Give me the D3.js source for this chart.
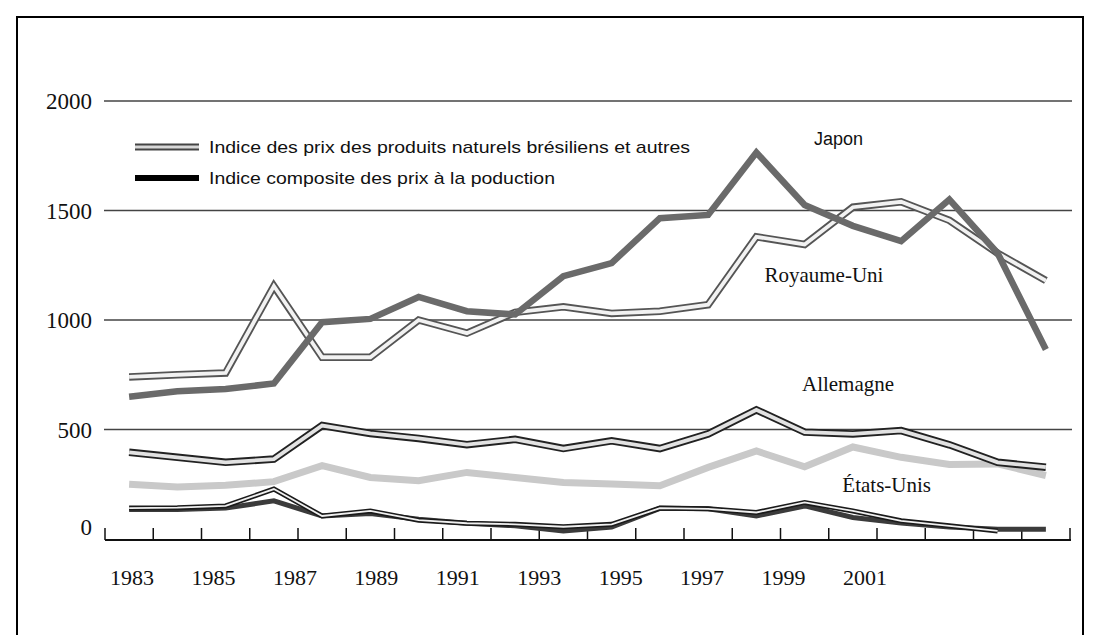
<!DOCTYPE html>
<html>
<head>
<meta charset="utf-8">
<script src="https://cdn.jsdelivr.net/npm/d3@7"></script>
<style>
  html, body { margin: 0; padding: 0; background: #fff; }
  svg { display: block; }
</style>
</head>
<body>
<svg id="chart" width="1095" height="635"></svg>
<script>
// ---- data ----
const years = [1983,1984,1985,1986,1987,1988,1989,1990,1991,1992,1993,1994,1995,1996,1997,1998,1999,2000,2001,2002];
const japon      = [650, 675, 685, 710, 990, 1005, 1105, 1040, 1025, 1200, 1260, 1465, 1480, 1765, 1525, 1430, 1360, 1550, 1305, 865];
const royaumeUni = [740, 750, 758, 1155, 830, 830, 1000, 940, 1035, 1060, 1030, 1040, 1070, 1380, 1345, 1515, 1540, 1455, 1305, 1180];
const allemagne  = [396, 373, 350, 365, 518, 482, 459, 431, 455, 413, 448, 413, 480, 590, 488, 480, 495, 430, 350, 328];
const etatsUnis  = [250, 238, 245, 262, 335, 281, 266, 304, 281, 258, 251, 243, 327, 402, 330, 420, 373, 340, 343, 290];
const bresil     = [141, 143, 151, 228, 105, 128, 86, 72, 67, 56, 67, 141, 138, 121, 167, 128, 83, 60, 37, null];
const composite  = [135, 135, 141, 174, 105, 116, 90, 72, 60, 37, 55, 140, 138, 105, 151, 98, 73, 55, 44, 44];
const yTicks = [0, 500, 1000, 1500, 2000];
const xLabels = ["1983","1985","1987","1989","1991","1993","1995","1997","1999","2001"];
const legendLabels = ["Indice des prix des produits naturels brésiliens et autres", "Indice composite des prix à la poduction"];
const countryLabels = [
  {name: "Japon", year: 1997.7, value: 1800, serif: false},
  {name: "Royaume-Uni", year: 1997.4, value: 1175, serif: true},
  {name: "Allemagne", year: 1997.9, value: 675, serif: true},
  {name: "États-Unis", year: 1998.7, value: 215, serif: true}
];

// ---- layout ----
const svg = d3.select("#chart");
const x = d3.scaleBand().domain(years).range([105, 1070]);
const xc = d => x(d) + x.bandwidth() / 2;
const y = d3.scaleLinear().domain([0, 2000]).range([539, 101]);
const xLab = d3.scalePoint().domain(xLabels).range([132, 865]);

const defs = svg.append("defs");
defs.append("filter").attr("id", "soft")
  .attr("filterUnits", "userSpaceOnUse").attr("x", 0).attr("y", 0).attr("width", 1095).attr("height", 635)
  .append("feGaussianBlur").attr("stdDeviation", 0.7);

// frame
svg.append("rect").attr("x", 17).attr("y", 17).attr("width", 1066).attr("height", 660)
  .attr("fill", "none").attr("stroke", "#000").attr("stroke-width", 2);

// gridlines
svg.append("g").selectAll("line").data(yTicks.filter(d => d > 0)).join("line")
  .attr("x1", 104).attr("x2", 1072)
  .attr("y1", d => y(d)).attr("y2", d => y(d))
  .attr("stroke", "#444").attr("stroke-width", 1.3);

// y labels
svg.append("g").selectAll("text").data(yTicks).join("text")
  .attr("x", 92).attr("y", d => d === 0 ? y(d) - 12 : y(d))
  .attr("dy", "0.35em").attr("text-anchor", "end")
  .attr("font-family", "Liberation Serif, Times New Roman, serif")
  .attr("font-size", 23).attr("fill", "#111")
  .text(d => d);

// x axis line + ticks (pointing up)
const axisG = svg.append("g");
axisG.append("line").attr("x1", 105).attr("x2", 1071).attr("y1", 540).attr("y2", 540)
  .attr("stroke", "#111").attr("stroke-width", 2);
const tickPos = years.map(d => x(d)).concat([x(years[years.length - 1]) + x.bandwidth()]);
axisG.selectAll("line.tick").data(tickPos).join("line").attr("class", "tick")
  .attr("x1", d => d).attr("x2", d => d).attr("y1", 540).attr("y2", 528)
  .attr("stroke", "#111").attr("stroke-width", 1.5);

// x labels
svg.append("g").selectAll("text").data(xLabels).join("text")
  .attr("x", d => xLab(d)).attr("y", 585).attr("text-anchor", "middle")
  .attr("font-family", "Liberation Serif, Times New Roman, serif")
  .attr("font-size", 22).attr("fill", "#111")
  .text(d => d);

function drawIdx(vals) {
  return d3.line().defined(d => d.v != null).x(d => xc(d.yr)).y(d => y(d.v))(vals.map((v, i) => ({v, yr: years[i]})));
}
const plot = svg.append("g").attr("fill", "none").attr("stroke-linejoin", "miter");

// États-Unis (light grey thick)
plot.append("path").attr("d", drawIdx(etatsUnis)).attr("stroke", "#c9c9c9").attr("stroke-width", 7).attr("filter", "url(#soft)");
// Allemagne (double line)
plot.append("path").attr("d", drawIdx(allemagne)).attr("stroke", "#222").attr("stroke-width", 7.5);
plot.append("path").attr("d", drawIdx(allemagne)).attr("stroke", "#e2e2e2").attr("stroke-width", 3.8);
// Royaume-Uni (double line)
plot.append("path").attr("d", drawIdx(royaumeUni)).attr("stroke", "#555").attr("stroke-width", 7.5);
plot.append("path").attr("d", drawIdx(royaumeUni)).attr("stroke", "#f2f2f2").attr("stroke-width", 3.8);
// Japon (dark grey thick)
plot.append("path").attr("d", drawIdx(japon)).attr("stroke", "#6a6a6a").attr("stroke-width", 6.5).attr("filter", "url(#soft)");
// composite (dark thick)
plot.append("path").attr("d", drawIdx(composite)).attr("stroke", "#3a3a3a").attr("stroke-width", 5).attr("filter", "url(#soft)");
// bresil (thin double)
plot.append("path").attr("d", drawIdx(bresil)).attr("stroke", "#1a1a1a").attr("stroke-width", 5);
plot.append("path").attr("d", drawIdx(bresil)).attr("stroke", "#f0f0f0").attr("stroke-width", 1.8);

// legend
const leg = svg.append("g");
leg.append("line").attr("x1", 135).attr("x2", 199).attr("y1", 147).attr("y2", 147).attr("stroke", "#444").attr("stroke-width", 7);
leg.append("line").attr("x1", 135).attr("x2", 199).attr("y1", 147).attr("y2", 147).attr("stroke", "#d8d8d8").attr("stroke-width", 3);
leg.append("line").attr("x1", 135).attr("x2", 199).attr("y1", 178).attr("y2", 178).attr("stroke", "#000").attr("stroke-width", 6).attr("filter", "url(#soft)");
leg.selectAll("text").data(legendLabels).join("text")
  .attr("x", 209).attr("y", (d, i) => 153 + i * 31)
  .attr("font-family", "Liberation Sans, Arial, sans-serif")
  .attr("font-size", 17).attr("fill", "#111")
  .attr("textLength", (d, i) => i === 0 ? 481 : 346).attr("lengthAdjust", "spacingAndGlyphs")
  .text(d => d);

// country labels
svg.append("g").selectAll("text").data(countryLabels).join("text")
  .attr("x", d => xc(Math.floor(d.year)) + (d.year % 1) * x.bandwidth())
  .attr("y", d => y(d.value)).attr("text-anchor", "middle")
  .attr("font-family", d => d.serif ? "Liberation Serif, Times New Roman, serif" : "Liberation Sans, Arial, sans-serif")
  .attr("font-size", d => d.serif ? 21 : 18).attr("fill", "#111")
  .text(d => d.name);
</script>
</body>
</html>
